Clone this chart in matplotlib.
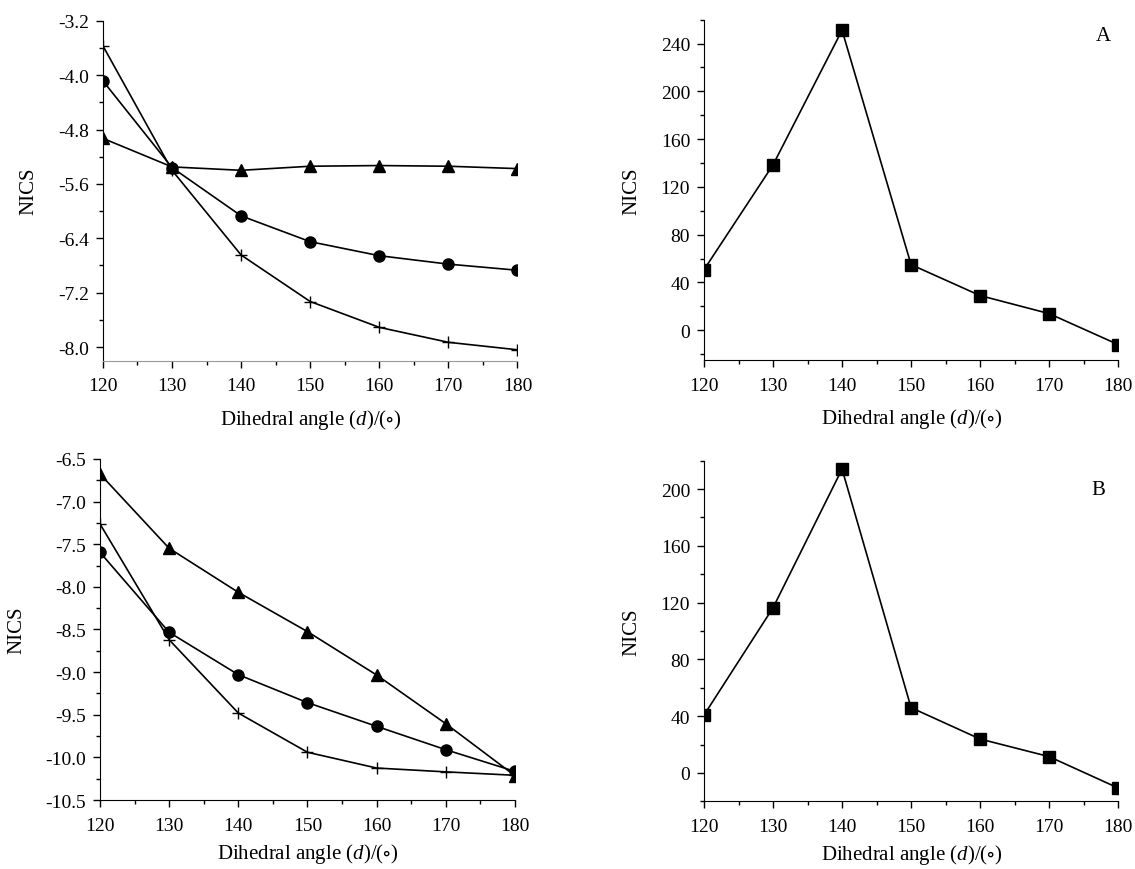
import numpy as np
import matplotlib.pyplot as plt
from matplotlib.ticker import MultipleLocator

plt.rcParams['font.family'] = ['Liberation Serif', 'DejaVu Serif']
plt.rcParams['mathtext.fontset'] = 'custom'
plt.rcParams['mathtext.rm'] = 'Liberation Serif'
plt.rcParams['mathtext.it'] = 'Liberation Serif:italic'
plt.rcParams['mathtext.fallback'] = 'stix'

angle = [120, 130, 140, 150, 160, 170, 180]

# panel A, left (three series)
a_tri = [-4.93, -5.35, -5.40, -5.34, -5.33, -5.34, -5.375]
a_dot = [-4.085, -5.36, -6.07, -6.45, -6.656, -6.78, -6.87]
a_plus = [-3.57, -5.40, -6.646, -7.33, -7.71, -7.93, -8.04]
# panel A, right
a_sq = [50.7, 138.5, 251.2, 54.9, 29.0, 13.9, -12.0]

# panel B, left
b_tri = [-6.676, -7.548, -8.064, -8.525, -9.034, -9.605, -10.215]
b_dot = [-7.595, -8.533, -9.03, -9.358, -9.636, -9.91, -10.164]
b_plus = [-7.262, -8.62, -9.48, -9.94, -10.125, -10.17, -10.21]
# panel B, right
b_sq = [40.8, 116.4, 214.1, 46.0, 23.9, 11.5, -10.6]

xlabel = r'Dihedral angle ($d$)/($\circ$)'

fig = plt.figure(figsize=(11.35, 8.7), dpi=100)
ax1 = fig.add_axes([0.0907, 0.5843, 0.3652, 0.3907])
ax2 = fig.add_axes([0.6203, 0.585, 0.3648, 0.3912])
ax3 = fig.add_axes([0.0881, 0.0793, 0.3656, 0.392])
ax4 = fig.add_axes([0.6203, 0.0778, 0.3648, 0.3915])


def style(ax, ylim, major, minor, pad=9):
    ax.spines['top'].set_visible(False)
    ax.spines['right'].set_visible(False)
    ax.set_xlim(120, 180)
    ax.set_ylim(*ylim)
    ax.xaxis.set_major_locator(MultipleLocator(10))
    ax.xaxis.set_minor_locator(MultipleLocator(5))
    ax.yaxis.set_major_locator(MultipleLocator(major))
    ax.yaxis.set_minor_locator(MultipleLocator(minor))
    ax.tick_params(which='major', direction='out', length=5, width=1, labelsize=14)
    ax.tick_params(which='minor', direction='out', length=3, width=1)
    ax.tick_params(axis='x', which='major', pad=7)
    ax.tick_params(axis='y', which='major', pad=5)
    ax.set_xlabel(xlabel, fontsize=15, labelpad=pad)
    ax.set_ylabel('NICS', fontsize=15, labelpad=14)


kw = dict(color='black', lw=1.2)

ax1.plot(angle, a_tri, marker='^', ms=8, **kw)
ax1.plot(angle, a_dot, marker='o', ms=8, **kw)
ax1.plot(angle, a_plus, marker='+', ms=8, mew=1, **kw)
style(ax1, (-8.2, -3.2), 0.8, 0.4)
ax1.yaxis.set_major_formatter(plt.FormatStrFormatter('%.1f'))
ax1.spines['bottom'].set_color('#999999')

ax2.plot(angle, a_sq, marker='s', ms=8, **kw)
style(ax2, (-25, 260), 40, 20)
ax2.text(0.964, 247, 'A', transform=ax2.get_yaxis_transform(),
         fontsize=15, ha='center', va='center')

ax3.plot(angle, b_tri, marker='^', ms=8, **kw)
ax3.plot(angle, b_dot, marker='o', ms=8, **kw)
ax3.plot(angle, b_plus, marker='+', ms=8, mew=1, **kw)
style(ax3, (-10.5, -6.5), 0.5, 0.25, pad=5)
ax3.yaxis.set_major_formatter(plt.FormatStrFormatter('%.1f'))

ax4.plot(angle, b_sq, marker='s', ms=8, **kw)
style(ax4, (-20, 220), 40, 20, pad=5)
ax4.text(0.952, 200, 'B', transform=ax4.get_yaxis_transform(),
         fontsize=15, ha='center', va='center')

fig.savefig('out.png', dpi=100)
